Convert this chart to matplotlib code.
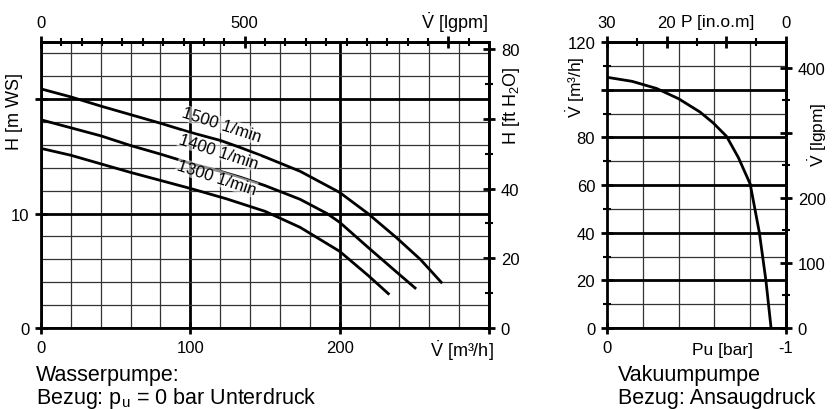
import numpy as np
import matplotlib.pyplot as plt
from matplotlib.ticker import MultipleLocator

plt.rcParams['font.family'] = ['Liberation Sans', 'DejaVu Sans']
plt.rcParams['mathtext.fontset'] = 'custom'
plt.rcParams['mathtext.rm'] = 'Liberation Sans'
plt.rcParams['mathtext.it'] = 'Liberation Sans:italic'
plt.rcParams['axes.unicode_minus'] = False

# Wasserpumpe: Förderstrom [m3/h] und Förderhöhe [m WS]
q1500 = [0, 20, 40, 60, 80, 100, 120, 133, 150, 173.5, 200, 219, 238, 254, 268]
h1500 = [20.9, 20.2, 19.4, 18.65, 17.9, 17.1, 16.4, 15.8, 14.95, 13.7, 11.85, 10.0, 7.9, 6.0, 4.0]
q1400 = [0, 20, 40, 60, 80, 100, 120, 133, 150, 173.5, 191.6, 200, 219, 238, 250.5]
h1400 = [18.2, 17.5, 16.8, 15.95, 15.2, 14.4, 13.7, 13.2, 12.45, 11.25, 10.0, 9.24, 7.05, 4.9, 3.5]
q1300 = [0, 20, 40, 60, 80, 100, 124, 150, 173.5, 200, 219, 232.6]
h1300 = [15.7, 15.1, 14.35, 13.6, 12.9, 12.2, 11.3, 10.2, 8.8, 6.7, 4.6, 3.0]
kurven = [(q1500, h1500, "1500 1/min", 121, 17.75),
          (q1400, h1400, "1400 1/min", 119, 15.45),
          (q1300, h1300, "1300 1/min", 117.5, 13.15)]

# Vakuumpumpe: Ansaugdruck [bar] und Saugvermögen [m3/h]
pu = [0, -0.14, -0.277, -0.40, -0.52, -0.594, -0.668, -0.734, -0.80, -0.816, -0.851, -0.888, -0.916]
vs = [105.2, 103.5, 100.5, 96.2, 90.6, 86.0, 80.4, 71.5, 60.4, 54, 40.1, 19.8, 0.4]

M3H_LGPM = 3.666
M_FT = 3.281

W, H = 832, 410
fig = plt.figure(figsize=(W / 100, H / 100), dpi=100)

def px(x, y):
    return x / W, 1 - y / H

def achsen_style(ax):
    for s in ax.spines.values():
        s.set_linewidth(2)
    ax.tick_params(which='major', direction='inout', length=9, width=2, labelsize=12, pad=4)
    ax.tick_params(which='minor', direction='inout', length=6, width=1.5)

# ---------- linke Grafik ----------
ax1 = fig.add_axes([41 / W, 81 / H, 448 / W, 286 / H])
ax1.set_xlim(0, 300)
ax1.set_ylim(0, 25)
ax1.set_xticks([0, 100, 200, 300], ['0', '100', '200', ''])
ax1.set_yticks([0, 10, 20], ['0', '10', ''])
ax1.xaxis.set_minor_locator(MultipleLocator(20))
ax1.yaxis.set_minor_locator(MultipleLocator(2))
achsen_style(ax1)
ax1.tick_params(which='minor', length=0)
ax1.grid(which='major', color='black', lw=2)
ax1.grid(which='minor', color='#333333', lw=0.9)
ax1.set_axisbelow(True)

for q, h, name, tx, ty in kurven:
    ax1.plot(q, h, color='black', lw=2, solid_joinstyle='round')
    ax1.text(tx, ty, name, rotation=-18, ha='center', va='center', fontsize=12,
             bbox=dict(fc='white', ec='none', alpha=0.55, pad=0.5))

top1 = ax1.secondary_xaxis('top', functions=(lambda q: q * M3H_LGPM, lambda g: g / M3H_LGPM))
top1.set_xticks([0, 500, 1000], ['0', '500', ''])
top1.xaxis.set_minor_locator(MultipleLocator(50))
achsen_style(top1)

rechts1 = ax1.secondary_yaxis('right', functions=(lambda h: h * M_FT, lambda f: f / M_FT))
rechts1.set_yticks([0, 20, 40, 60, 80], ['0', '20', '40', '', '80'])
rechts1.yaxis.set_minor_locator(MultipleLocator(10))
achsen_style(rechts1)

fig.text(*px(15, 112), "H [m WS]", rotation=90, ha='center', va='center', fontsize=13)
fig.text(*px(511, 106), r"H [ft H$_2$O]", rotation=90, ha='center', va='center', fontsize=13)
fig.text(*px(454, 23), r"$\dot{\mathrm{V}}$ [lgpm]", ha='center', va='center', fontsize=13)
fig.text(*px(462, 351), r"$\dot{\mathrm{V}}$ [m³/h]", ha='center', va='center', fontsize=13)
fig.text(*px(36, 376), "Wasserpumpe:", ha='left', va='center', fontsize=15.5)
fig.text(*px(36, 399), r"Bezug: p$_\mathrm{u}$ = 0 bar Unterdruck", ha='left', va='center', fontsize=15.5)

# ---------- rechte Grafik ----------
ax2 = fig.add_axes([607 / W, 81 / H, 179 / W, 286 / H])
ax2.set_xlim(0, -1)
ax2.set_ylim(0, 120)
ax2.set_xticks([0, -1], ['0', '-1'])
ax2.xaxis.set_minor_locator(MultipleLocator(0.2))
ax2.set_yticks(np.arange(0, 121, 20), ['0', '20', '40', '60', '80', '', '120'])
ax2.yaxis.set_minor_locator(MultipleLocator(10))
achsen_style(ax2)
ax2.tick_params(axis='x', which='minor', length=0)
ax2.xaxis.grid(which='minor', color='#333333', lw=0.9)
ax2.yaxis.grid(which='major', color='black', lw=2)
ax2.yaxis.grid(which='minor', color='#333333', lw=0.9)
ax2.set_axisbelow(True)
ax2.plot(pu, vs, color='black', lw=2, solid_joinstyle='round')

top2 = ax2.secondary_xaxis('top', functions=(lambda p: 30 * (1 + p), lambda i: i / 30 - 1))
top2.set_xticks([30, 20, 10, 0], ['30', '20', '', '0'])
top2.xaxis.set_minor_locator(MultipleLocator(5))
achsen_style(top2)

rechts2 = ax2.secondary_yaxis('right', functions=(lambda v: v * M3H_LGPM, lambda g: g / M3H_LGPM))
rechts2.set_yticks([0, 100, 200, 300, 400], ['0', '100', '200', '', '400'])
rechts2.yaxis.set_minor_locator(MultipleLocator(50))
achsen_style(rechts2)

fig.text(*px(718, 23), "P [in.o.m]", ha='center', va='center', fontsize=12.5)
fig.text(*px(722, 351), "Pu [bar]", ha='center', va='center', fontsize=12.5)
fig.text(*px(576, 87), r"$\dot{\mathrm{V}}$ [m³/h]", rotation=90, ha='center', va='center', fontsize=12.5)
fig.text(*px(818, 135), r"$\dot{\mathrm{V}}$ [lgpm]", rotation=90, ha='center', va='center', fontsize=12.5)
fig.text(*px(618, 376), "Vakuumpumpe", ha='left', va='center', fontsize=15.5)
fig.text(*px(618, 399), "Bezug: Ansaugdruck", ha='left', va='center', fontsize=15.5)

fig.savefig('out.png', dpi=100)
